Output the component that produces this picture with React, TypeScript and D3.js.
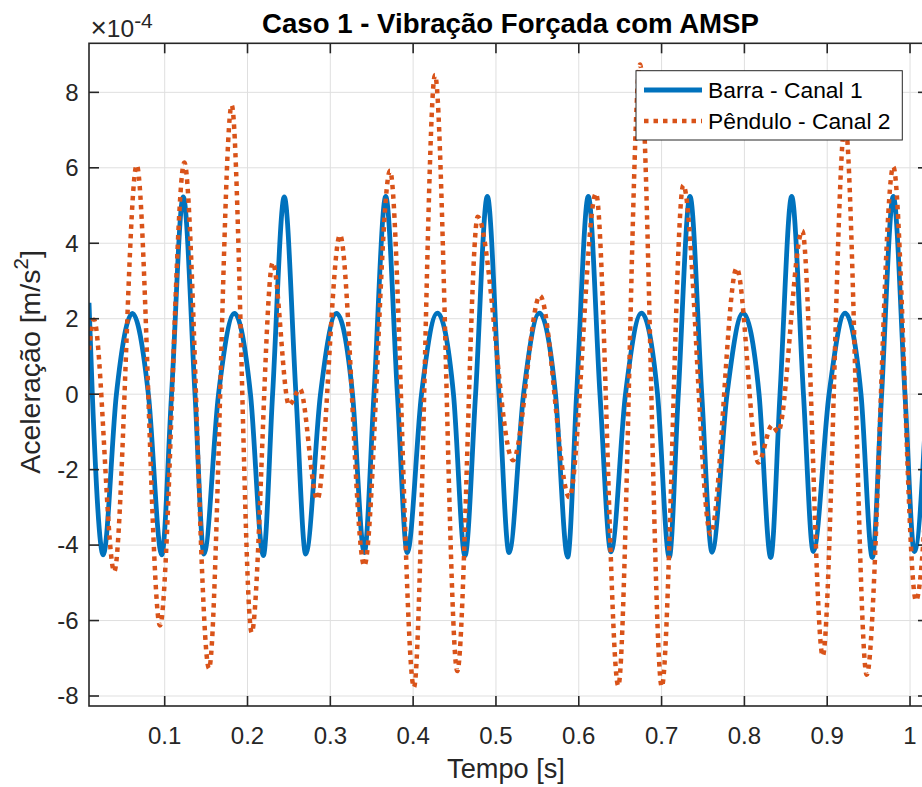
import React from 'react';
import * as d3 from 'd3';

const W = 922;
const H = 787;
const PLOT = { left: 89, top: 43.3, right: 928, bottom: 706 };

const xDomain: [number, number] = [0.0086, 1.0217];
const yDomain: [number, number] = [-8.265, 9.3];

const xTicks = [0.1, 0.2, 0.3, 0.4, 0.5, 0.6, 0.7, 0.8, 0.9, 1.0];
const xTickLabels = ['0.1', '0.2', '0.3', '0.4', '0.5', '0.6', '0.7', '0.8', '0.9', '1'];
const yTicks = [-8, -6, -4, -2, 0, 2, 4, 6, 8];
const yTickLabels = ['-8', '-6', '-4', '-2', '0', '2', '4', '6', '8'];

const title = 'Caso 1 - Vibração Forçada com AMSP';
const xLabel = 'Tempo [s]';
const seriesNames = ['Barra - Canal 1', 'Pêndulo - Canal 2'];

// Barra - Canal 1 (×1e-4 m/s²): time [s]
const barraT = [
  0.0086, 0.0126, 0.0258, 0.0417, 0.0610, 0.0803, 0.0964, 0.1083, 0.1224, 0.1366,
  0.1474, 0.1650, 0.1843, 0.2036, 0.2191, 0.2303, 0.2444, 0.2585, 0.2703, 0.2881,
  0.3075, 0.3268, 0.3410, 0.3527, 0.3669, 0.3810, 0.3929, 0.4101, 0.4294, 0.4487,
  0.4626, 0.4754, 0.4896, 0.5037, 0.5158, 0.5333, 0.5526, 0.5719, 0.5866, 0.5974,
  0.6115, 0.6256, 0.6389, 0.6564, 0.6758, 0.6951, 0.7093, 0.7202, 0.7343, 0.7485,
  0.7609, 0.7790, 0.7983, 0.8177, 0.8318, 0.8430, 0.8571, 0.8713, 0.8832, 0.9022,
  0.9215, 0.9408, 0.9545, 0.9657, 0.9798, 0.9939, 1.0052, 1.0217,
];
const barraV = [
  2.42, 0, -4.26, 0, 2.14, 0, -4.26, 0, 5.23, 0,
  -4.24, 0, 2.14, 0, -4.28, 0, 5.23, 0, -4.24, 0,
  2.14, 0, -4.2, 0, 5.24, 0, -4.2, 0, 2.15, 0,
  -4.28, 0, 5.24, 0, -4.2, 0, 2.15, 0, -4.32, 0,
  5.24, 0, -4.18, 0, 2.15, 0, -4.32, 0, 5.24, 0,
  -4.19, 0, 2.15, 0, -4.33, 0, 5.24, 0, -4.17, 0,
  2.15, 0, -4.33, 0, 5.24, 0, -4.17, 0.6,
];

// Pêndulo - Canal 2 (×1e-4 m/s²)
const penduloT = [
  0.0086, 0.0146, 0.0391, 0.0662, 0.0943, 0.1237, 0.1535, 0.1809, 0.2050, 0.2304,
  0.2501, 0.2634, 0.2843, 0.3117, 0.3410, 0.3721, 0.4010, 0.4264, 0.4533, 0.4780,
  0.5206, 0.5532, 0.5886, 0.6208, 0.6477, 0.6740, 0.7002, 0.7262, 0.7593, 0.7907,
  0.8168, 0.8334, 0.8406, 0.8699, 0.8946, 0.9215, 0.9477, 0.9798, 1.0072, 1.0217,
];
const penduloV = [
  1.17, 1.97, -4.70, 6.07, -6.13, 6.14, -7.27, 7.66, -6.32, 3.49,
  -0.29, 0.14, -2.79, 4.22, -4.55, 5.92, -7.77, 8.46, -7.34, 4.70,
  -1.75, 2.61, -2.73, 5.32, -7.73, 8.74, -7.75, 5.54, -3.71, 3.34,
  -1.81, -0.82, -1.0, 4.33, -6.94, 7.2, -7.44, 6.03, -5.47, -2.0,
];

const BLUE = '#0072BD';
const ORANGE = '#D95319';
const AXIS = '#262626';
const GRID = '#dfdfdf';
const FONT = '"Liberation Sans", Arial, Helvetica, sans-serif';

export default function App() {
  const x = d3.scaleLinear().domain(xDomain).range([PLOT.left, PLOT.right]);
  const y = d3.scaleLinear().domain(yDomain).range([PLOT.bottom, PLOT.top]);

  const line = d3
    .line<[number, number]>()
    .x((d) => x(d[0]))
    .y((d) => y(d[1]))
    .curve(d3.curveMonotoneX);

  const barra = barraT.map((t, i) => [t, barraV[i]] as [number, number]);
  const pendulo = penduloT.map((t, i) => [t, penduloV[i]] as [number, number]);

  const tickLen = 10;

  return (
    <svg
      width={W}
      height={H}
      style={{ position: 'absolute', left: 0, top: 0, background: '#fff' }}
      fontFamily={FONT}
    >
      <defs>
        <clipPath id="plotclip">
          <rect x={PLOT.left} y={PLOT.top} width={PLOT.right - PLOT.left} height={PLOT.bottom - PLOT.top} />
        </clipPath>
      </defs>
      <rect x={0} y={0} width={W} height={H} fill="#fff" />
      <rect x={PLOT.left} y={PLOT.top} width={PLOT.right - PLOT.left} height={PLOT.bottom - PLOT.top} fill="#fff" />

      {/* grid */}
      {xTicks.map((t) => (
        <line key={'gx' + t} x1={x(t)} x2={x(t)} y1={PLOT.top} y2={PLOT.bottom} stroke={GRID} strokeWidth={1} />
      ))}
      {yTicks.map((t) => (
        <line key={'gy' + t} x1={PLOT.left} x2={PLOT.right} y1={y(t)} y2={y(t)} stroke={GRID} strokeWidth={1} />
      ))}

      {/* data */}
      <g clipPath="url(#plotclip)">
        <path d={line(barra) || ''} fill="none" stroke={BLUE} strokeWidth={4.8} strokeLinejoin="round" />
        <path
          d={line(pendulo) || ''}
          fill="none"
          stroke={ORANGE}
          strokeWidth={4.5}
          strokeDasharray="4.5 5"
          strokeLinecap="butt"
        />
      </g>

      {/* axes box */}
      <rect
        x={PLOT.left}
        y={PLOT.top}
        width={PLOT.right - PLOT.left}
        height={PLOT.bottom - PLOT.top}
        fill="none"
        stroke={AXIS}
        strokeWidth={1.6}
      />
      {xTicks.map((t) => (
        <g key={'tx' + t}>
          <line x1={x(t)} x2={x(t)} y1={PLOT.bottom} y2={PLOT.bottom - tickLen} stroke={AXIS} strokeWidth={1.6} />
          <line x1={x(t)} x2={x(t)} y1={PLOT.top} y2={PLOT.top + tickLen} stroke={AXIS} strokeWidth={1.6} />
        </g>
      ))}
      {yTicks.map((t) => (
        <g key={'ty' + t}>
          <line x1={PLOT.left} x2={PLOT.left + tickLen} y1={y(t)} y2={y(t)} stroke={AXIS} strokeWidth={1.6} />
          <line x1={PLOT.right} x2={PLOT.right - tickLen} y1={y(t)} y2={y(t)} stroke={AXIS} strokeWidth={1.6} />
        </g>
      ))}

      {/* tick labels */}
      {xTicks.map((t, i) => (
        <text key={'lx' + t} x={x(t)} y={743.5} textAnchor="middle" fontSize={24} fill={AXIS}>
          {xTickLabels[i]}
        </text>
      ))}
      {yTicks.map((t, i) => (
        <text key={'ly' + t} x={78.5} y={y(t)} dy="0.35em" textAnchor="end" fontSize={24} fill={AXIS}>
          {yTickLabels[i]}
        </text>
      ))}

      {/* exponent */}
      <text x={90.5} y={36.7} fill={AXIS}>
        <tspan fontSize={28} fontWeight={300}>×</tspan>
        <tspan fontSize={24.5}>10</tspan>
        <tspan fontSize={21} dy={-9}>-4</tspan>
      </text>

      {/* title */}
      <text x={510.5} y={33.3} textAnchor="middle" fontSize={27.6} fontWeight="bold" fill="#000">
        {title}
      </text>

      {/* axis labels */}
      <text x={506} y={777.5} textAnchor="middle" fontSize={27.2} fill={AXIS}>
        {xLabel}
      </text>
      <text transform="translate(39.5,362) rotate(-90)" textAnchor="middle" fontSize={28.5} fill={AXIS}>
        <tspan>Aceleração [m/s</tspan>
        <tspan fontSize={20.5} dy={-11.5}>2</tspan>
        <tspan dy={11.5}>]</tspan>
      </text>

      {/* legend */}
      <g>
        <rect x={636} y={70.7} width={266.3} height={69.3} fill="#fff" stroke={AXIS} strokeWidth={1} />
        <line x1={644} x2={702} y1={90} y2={90} stroke={BLUE} strokeWidth={4.8} />
        <line x1={644} x2={702} y1={121} y2={121} stroke={ORANGE} strokeWidth={4.5} strokeDasharray="4.5 5" />
        <text x={708} y={98.3} fontSize={22.8} fill="#000">
          {seriesNames[0]}
        </text>
        <text x={708} y={128.5} fontSize={22.8} fill="#000">
          {seriesNames[1]}
        </text>
      </g>
    </svg>
  );
}
